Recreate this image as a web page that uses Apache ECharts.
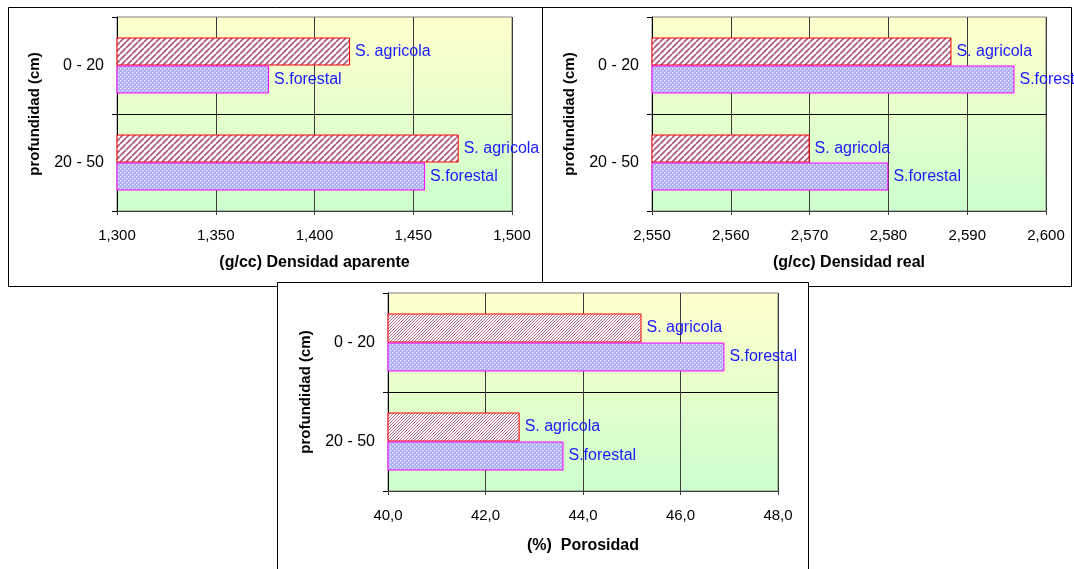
<!DOCTYPE html>
<html>
<head>
<meta charset="utf-8">
<script src="https://cdn.jsdelivr.net/npm/echarts/dist/echarts.min.js"></script>
<style>
  html, body { margin: 0; padding: 0; background: #fff; }
  #chart { width: 1074px; height: 569px; }
</style>
</head>
<body>
<div id="chart"></div>
<script>
// datos
const profundidades = ['0 - 20', '20 - 50'];
const nombres = ['S. agricola', 'S.forestal'];
const aparenteAgricola = [1.418, 1.473];
const aparenteForestal = [1.377, 1.456];
const realAgricola = [2.588, 2.570];
const realForestal = [2.596, 2.580];
const porosidadAgricola = [45.2, 42.7];
const porosidadForestal = [46.9, 43.6];

const FONT = '"Liberation Sans", Arial, sans-serif';

// patron rayado diagonal (S. agricola)
function hatch(size, lw, col) {
  const c = document.createElement('canvas');
  c.width = size; c.height = size;
  const ctx = c.getContext('2d');
  ctx.fillStyle = '#ffffff';
  ctx.fillRect(0, 0, size, size);
  ctx.strokeStyle = col;
  ctx.lineWidth = lw;
  ctx.beginPath();
  for (let k = -1; k <= 1; k++) {
    ctx.moveTo(k * size, size);
    ctx.lineTo(k * size + size, 0);
  }
  ctx.stroke();
  return c;
}

// patron cuadriculado (S.forestal)
function dots(size) {
  const c = document.createElement('canvas');
  c.width = size; c.height = size;
  const ctx = c.getContext('2d');
  ctx.fillStyle = '#adadf8';
  ctx.fillRect(0, 0, size, size);
  ctx.fillStyle = '#ececff';
  const h = size / 2;
  ctx.fillRect(0, 0, 1, 1);
  ctx.fillRect(h, h, 1, 1);
  ctx.fillStyle = '#cdcdfc';
  ctx.fillRect(1, 0, 1, 1);
  ctx.fillRect(0, 1, 1, 1);
  ctx.fillRect(h + 1, h, 1, 1);
  ctx.fillRect(h, h + 1, 1, 1);
  return c;
}

const hatchBig = { image: hatch(6, 1.7, '#a8587e'), repeat: 'repeat' };
const hatchSmall = { image: hatch(3, 1, '#b06888'), repeat: 'repeat' };
const dotsBig = { image: dots(4), repeat: 'repeat' };
const dotsSmall = { image: dots(4), repeat: 'repeat' };

const fondo = {
  type: 'linear', x: 0, y: 0, x2: 0, y2: 1,
  colorStops: [{ offset: 0, color: '#ffffcc' }, { offset: 1, color: '#ccffcc' }]
};

const grids = [
  { left: 117, top: 17, width: 395, height: 194 },
  { left: 652, top: 17, width: 394, height: 194 },
  { left: 388, top: 293, width: 390, height: 198 }
].map(g => Object.assign({
  show: true, backgroundColor: fondo, borderColor: '#808080', borderWidth: 1
}, g));

function xAxis(idx, min, max, interval, dec, name, gap) {
  return {
    type: 'value', gridIndex: idx, min: min, max: max, interval: interval,
    name: name, nameLocation: 'middle', nameGap: gap,
    nameTextStyle: { fontFamily: FONT, fontSize: 16, fontWeight: 'bold', color: '#000' },
    axisLine: { show: true, lineStyle: { color: '#404040' } },
    axisTick: { show: true, length: 4, lineStyle: { color: '#404040' } },
    axisLabel: {
      margin: 17, fontFamily: FONT, fontSize: 15, color: '#000',
      formatter: v => v.toFixed(dec).replace('.', ',')
    },
    splitLine: { show: true, lineStyle: { color: '#3c3c3c', width: 1 } }
  };
}

function yAxis(idx) {
  return {
    type: 'category', gridIndex: idx, data: profundidades, inverse: true,
    name: 'profundidad (cm)', nameLocation: 'middle', nameGap: 75,
    nameTextStyle: { fontFamily: FONT, fontSize: 15, fontWeight: 'bold', color: '#000' },
    axisLine: { show: true, lineStyle: { color: '#000' } },
    axisTick: { show: true, length: 5, lineStyle: { color: '#000' } },
    axisLabel: { margin: 13, fontFamily: FONT, fontSize: 16, color: '#000' },
    // solo la linea entre categorias
    splitLine: {
      show: true, interval: 0, showMinLine: false, showMaxLine: false,
      lineStyle: { color: '#000' }
    }
  };
}

function barra(idx, nombre, datos, fill, borde, ancho) {
  return {
    type: 'bar', name: nombre, xAxisIndex: idx, yAxisIndex: idx,
    data: datos, barWidth: ancho, barGap: '0%',
    itemStyle: { color: fill, borderColor: borde, borderWidth: 1 },
    label: {
      show: true, position: 'right', distance: 5,
      formatter: nombre, fontFamily: FONT, fontSize: 16, color: '#1a1aff'
    },
    animation: false
  };
}

const chart = echarts.init(document.getElementById('chart'));

chart.setOption({
  animation: false,
  backgroundColor: '#ffffff',
  graphic: [
    { type: 'rect', z: -10, shape: { x: 8.5, y: 7.5, width: 534, height: 279 },
      style: { fill: '#fff', stroke: '#000', lineWidth: 1 } },
    { type: 'rect', z: -10, shape: { x: 542.5, y: 7.5, width: 529, height: 279 },
      style: { fill: '#fff', stroke: '#000', lineWidth: 1 } },
    { type: 'rect', z: -10, shape: { x: 277.5, y: 282.5, width: 531, height: 300 },
      style: { fill: '#fff', stroke: '#000', lineWidth: 1 } }
  ],
  grid: grids,
  xAxis: [
    xAxis(0, 1.3, 1.5, 0.05, 3, '(g/cc) Densidad aparente', 44),
    xAxis(1, 2.55, 2.6, 0.01, 3, '(g/cc) Densidad real', 44),
    xAxis(2, 40, 48, 2, 1, '(%)  Porosidad', 47)
  ],
  yAxis: [yAxis(0), yAxis(1), yAxis(2)],
  series: [
    barra(0, nombres[0], aparenteAgricola, hatchBig, '#ff0000', 28),
    barra(0, nombres[1], aparenteForestal, dotsBig, '#ff00ff', 28),
    barra(1, nombres[0], realAgricola, hatchBig, '#ff0000', 28),
    barra(1, nombres[1], realForestal, dotsBig, '#ff00ff', 28),
    barra(2, nombres[0], porosidadAgricola, hatchSmall, '#ff0000', 29),
    barra(2, nombres[1], porosidadForestal, dotsSmall, '#ff00ff', 29)
  ]
});
</script>
</body>
</html>
